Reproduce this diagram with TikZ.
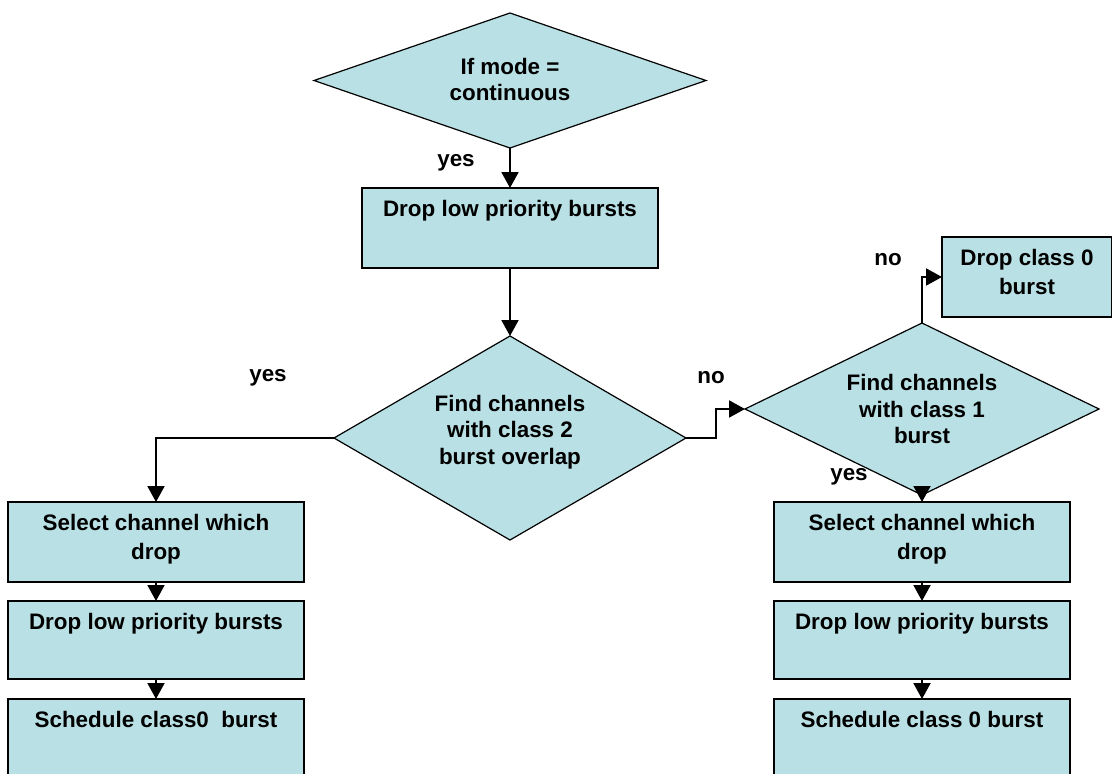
\documentclass[tikz,border=0pt]{standalone}
\usepackage{fontspec}
\setmainfont{Liberation Sans}
\usetikzlibrary{shapes.geometric,arrows.meta}
\definecolor{procfill}{RGB}{185,224,228}
\newcommand\boxlines[3]{\parbox[c][#2][t]{#1}{\vspace*{12.5pt}\centering\baselineskip=28.5pt #3\par}}
\tikzset{
  every node/.style={font=\fontsize{22.4}{26.5}\selectfont\bfseries},
  procbox/.style={draw, line width=1.5pt, fill=procfill, inner sep=0pt, outer sep=0pt},
  decision/.style={diamond, draw, line width=1.2pt, fill=procfill, inner sep=0pt, outer sep=0pt},
  dtext/.style={align=center, inner sep=0pt},
  flow/.style={line width=2pt, -{Triangle[length=16pt,width=17pt]}},
  tag/.style={inner sep=0pt}
}
\begin{document}
\begin{tikzpicture}[x=1pt,y=-1pt]
\clip (0,0) rectangle (1112,774);
\fill[white] (0,0) rectangle (1112,774);

% decisions
\node[decision, minimum width=392pt, minimum height=135pt, shape aspect=2.9,
  label={[dtext, yshift=1pt]center:If mode =\\continuous}] (mode) at (510,80.5) {};
\node[decision, minimum width=352pt, minimum height=204pt, shape aspect=1.73,
  label={[dtext, yshift=6pt]center:Find channels\\with class 2\\burst overlap}] (ovl) at (510,438) {};
\node[decision, minimum width=354pt, minimum height=172pt, shape aspect=2.06,
  label={[dtext]center:Find channels\\with class 1\\burst}] (cls1) at (922,409) {};

% process boxes
\node[procbox] (drop) at (510,228) {\boxlines{296pt}{80pt}{Drop low priority bursts}};
\node[procbox] (dropzero) at (1027,277) {\boxlines{170pt}{80pt}{Drop class 0\\burst}};

\node[procbox] (lsel) at (156,542) {\boxlines{296pt}{80pt}{Select channel which\\drop}};
\node[procbox] (ldrop) at (156,640) {\boxlines{296pt}{78pt}{Drop low priority bursts}};
\node[procbox] (lsched) at (156,739) {\boxlines{296pt}{80pt}{Schedule class0~ burst}};

\node[procbox] (rsel) at (922,542) {\boxlines{296pt}{80pt}{Select channel which\\drop}};
\node[procbox] (rdrop) at (922,640) {\boxlines{296pt}{78pt}{Drop low priority bursts}};
\node[procbox] (rsched) at (922,739) {\boxlines{296pt}{80pt}{Schedule class 0 burst}};

% bend points
\coordinate (lturn) at (156,438);
\coordinate (rstep1) at (716,438);
\coordinate (rstep2) at (716,409);
\coordinate (upturn) at (922,277);

% connectors
\draw[flow] (mode.south) -- (drop.north);
\draw[flow] (drop.south) -- (ovl.north);
\draw[flow] (ovl.west) -- (lturn) -- (lsel.north);
\draw[flow] (ovl.east) -- (rstep1) -- (rstep2) -- (cls1.west);
\draw[flow] (cls1.north) -- (upturn) -- (dropzero.west);
\draw[flow] (cls1.south) -- (rsel.north);
\draw[flow] (lsel.south) -- (ldrop.north);
\draw[flow] (ldrop.south) -- (lsched.north);
\draw[flow] (rsel.south) -- (rdrop.north);
\draw[flow] (rdrop.south) -- (rsched.north);

% branch labels
\node[tag] (yes1) at (456,163) {yes};
\node[tag] (yes2) at (268,378) {yes};
\node[tag] (no1) at (711,378) {no};
\node[tag] (no2) at (888,260) {no};
\node[tag] (yes3) at (849,477) {yes};
\end{tikzpicture}
\end{document}
